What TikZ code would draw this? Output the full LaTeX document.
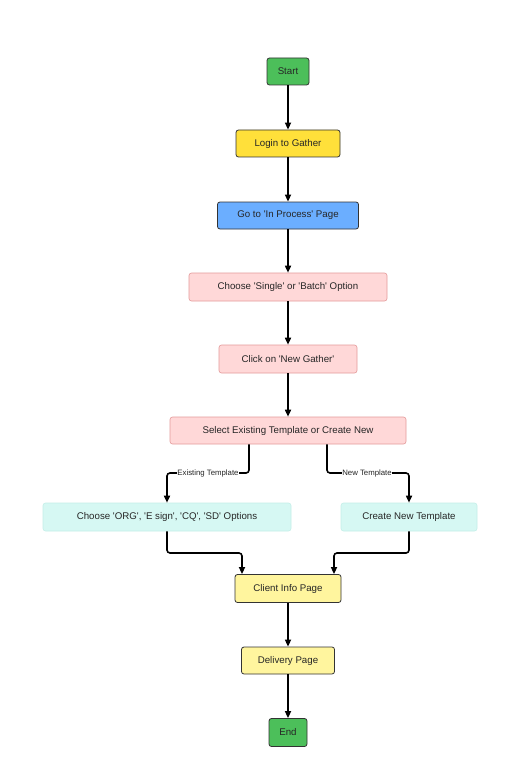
\documentclass[tikz,border=0pt]{standalone}
\usepackage{fontspec}
\setmainfont{Liberation Sans}[Ligatures=TeXOff]
\usetikzlibrary{arrows.meta}
\definecolor{gfill}{HTML}{4CBF5A}
\definecolor{yfill}{HTML}{FFE03A}
\definecolor{bfill}{HTML}{6BAEFF}
\definecolor{pfill}{HTML}{FFD8D8}
\definecolor{pdraw}{HTML}{E49A9A}
\definecolor{cfill}{HTML}{D6F8F3}
\definecolor{cdraw}{HTML}{C4EEE8}
\definecolor{lyfill}{HTML}{FFF59E}
\definecolor{dk}{HTML}{333333}
\tikzset{
  box/.style={rectangle, rounded corners=2.5pt, line width=0.8pt, inner sep=0pt,
    font=\fontsize{9.7}{11}\selectfont, text=black!85},
  darkbox/.style={box, draw=dk},
  pinkbox/.style={box, fill=pfill, draw=pdraw, line width=0.6pt},
  cyanbox/.style={box, fill=cfill, draw=cdraw, line width=0.6pt},
  conn/.style={line width=1.6pt, black, -{Triangle[length=7pt,width=6pt]}, rounded corners=3pt},
  lbl/.style={font=\fontsize{7.8}{8}\selectfont, fill=white, inner sep=0.5pt, text=black!85}
}
\begin{document}
\begin{tikzpicture}[x=1pt,y=-1pt]
\useasboundingbox[fill=white] (0,0) rectangle (516,770);
\node[darkbox, fill=gfill, minimum width=42pt, minimum height=27pt] (start) at (288,71.5) {Start};
\node[darkbox, fill=yfill, minimum width=104pt, minimum height=27pt] (login) at (288,143.5) {Login to Gather};
\node[darkbox, fill=bfill, minimum width=141pt, minimum height=27pt] (goto) at (288,215.5) {Go to 'In Process' Page};
\node[pinkbox, minimum width=198pt, minimum height=28pt] (choose) at (288,287) {Choose 'Single' or 'Batch' Option};
\node[pinkbox, minimum width=138pt, minimum height=28pt] (click) at (288,359) {Click on 'New Gather'};
\node[pinkbox, minimum width=236pt, minimum height=27pt] (select) at (288,430.5) {Select Existing Template or Create New};
\node[cyanbox, minimum width=248pt, minimum height=28pt] (org) at (167,517) {Choose 'ORG', 'E sign', 'CQ', 'SD' Options};
\node[cyanbox, minimum width=136pt, minimum height=28pt] (newt) at (409,517) {Create New Template};
\node[darkbox, fill=lyfill, minimum width=106pt, minimum height=28pt] (client) at (288,588.5) {Client Info Page};
\node[darkbox, fill=lyfill, minimum width=93pt, minimum height=27pt] (deliv) at (288,660.5) {Delivery Page};
\node[darkbox, fill=gfill, minimum width=38pt, minimum height=28pt] (end) at (288,732.5) {End};

\draw[conn] (start) -- (login);
\draw[conn] (login) -- (goto);
\draw[conn] (goto) -- (choose);
\draw[conn] (choose) -- (click);
\draw[conn] (click) -- (select);
\draw[conn] (select.south -| 249,0) |- (208,473) -| (org.north);
\draw[conn] (select.south -| 327,0) |- (367,473) -| (newt.north);
\node[lbl] (lE) at (208,473) {Existing Template};
\node[lbl] (lN) at (367,473) {New Template};
\draw[conn] (org.south) |- (242,553) -- (client.north -| 242,0);
\draw[conn] (newt.south) |- (334,553) -- (client.north -| 334,0);
\draw[conn] (client) -- (deliv);
\draw[conn] (deliv) -- (end);
\end{tikzpicture}
\end{document}
